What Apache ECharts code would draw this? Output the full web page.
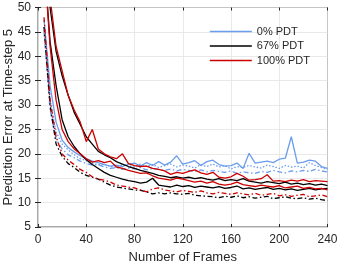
<!DOCTYPE html>
<html><head><meta charset="utf-8">
<script src="https://cdn.jsdelivr.net/npm/echarts@6/dist/echarts.min.js"></script>
<style>html,body{margin:0;padding:0;background:#fff}#c{width:339px;height:263px}</style>
</head><body><div id="c"></div>
<script>
const frames = [5,10,15,20,25,30,35,40,45,50,55,60,65,70,75,80,85,90,95,100,105,110,115,120,125,130,135,140,145,150,155,160,165,170,175,180,185,190,195,200,205,210,215,220,225,230,235,240];
const xTicks = [0,40,80,120,160,200,240];
const yTicks = [5,10,15,20,25,30,35,40,45,50];
const legendNames = ['0% PDT','67% PDT','100% PDT'];

const blueSolid = [47.5,34,26.5,22.8,21.3,20.4,19.6,19.0,18.5,18.2,17.8,17.5,17.7,17.4,17.9,18.1,17.5,18.2,17.6,18.4,17.7,18.3,19.6,17.9,18.2,18.6,17.6,18.4,18.7,17.8,17.5,17.6,18.1,17.0,20.1,18.1,18.3,18.5,18.2,18.9,19.1,23.5,18.1,18.3,18.7,18.5,17.4,17.0];
const blueDotted = [46,31,24.5,22,20.8,19.8,19.0,18.6,18.1,17.8,17.9,17.4,17.2,17.8,17.5,17.3,17.9,17.4,17.8,17.2,17.6,17.9,17.3,17.7,17.5,17.1,17.8,17.4,17.9,17.3,17.6,16.9,17.4,17.2,17.6,17.3,17.1,17.7,17.4,17.0,17.6,17.3,17.5,17.1,18.2,17.6,17.2,16.8];
const blueDashDot = [45,29,23,21,19.8,19.2,18.5,18.0,17.7,17.8,17.3,17.0,17.2,16.8,17.1,16.9,17.2,16.7,17.0,16.8,16.6,16.9,16.5,16.8,16.6,16.4,16.7,16.3,16.6,16.4,16.2,16.5,16.0,16.3,16.1,16.0,16.4,16.2,16.6,16.3,16.1,16.5,16.3,16.6,16.4,16.8,16.5,16.3];

const blackUpper = [65,50,41,36,32,28.5,26,23.5,22,20.5,19.8,19.2,18.4,17.9,17.4,17.0,16.6,16.3,16.0,15.6,15.4,15.1,15.3,15.0,15.2,14.9,15.1,14.8,14.6,14.9,14.5,14.7,14.5,14.9,14.4,14.2,14.0,14.3,14.1,13.9,14.2,13.8,14.0,13.7,13.9,13.6,13.8,13.5];
const blackLower = [60,43,34,27,23.5,21.5,20,18.8,17.8,17.0,16.2,15.6,15.2,14.8,14.5,14.3,14.0,14.2,15.0,13.6,13.4,13.2,13.6,13.3,13.5,13.1,13.4,13.2,13.0,13.3,12.9,13.1,13.4,12.8,13.0,12.7,12.9,13.1,12.7,12.9,12.6,12.8,12.5,12.7,12.9,12.6,12.8,12.9];
const blackDashDot = [46,30,22,19.5,18,17.2,16.2,15.6,15.2,14.8,14.2,13.6,13.2,13.0,12.8,12.6,12.5,12.2,11.8,12.0,11.8,12.0,11.8,11.7,11.9,11.5,11.4,11.3,11.2,11.0,11.3,11.1,11.4,11.0,11.2,10.9,11.1,11.3,10.8,11.0,11.2,10.9,10.8,11.0,10.7,10.9,10.6,10.4];

const redUpper = [70,52,42,37,32,29,26.5,22.5,25.0,21.0,20.0,19.4,19.0,20.0,18.0,17.6,17.4,17.5,17.0,16.8,16.5,15.8,16.2,16.0,16.4,16.7,16.1,15.8,16.2,15.2,15.0,15.3,16.0,15.4,14.6,14.7,14.9,15.7,14.4,14.5,14.3,14.6,14.4,14.7,14.3,14.5,14.4,14.3];
const redLower = [60,42,31,25,22.5,21,20,19,18.3,18.6,18.2,18.5,17.3,17.0,16.6,16.3,16.0,16.1,15.5,15.0,14.8,14.6,15.0,14.8,14.5,14.2,14.4,14.0,14.3,13.8,13.6,13.8,14.2,13.7,13.5,13.3,13.6,13.4,13.2,13.5,13.0,13.2,13.4,12.9,13.1,12.8,12.9,12.6];
const redDashDot = [48,31,23.5,20,18.7,17.8,16.8,16.2,15.3,14.8,14.6,14.2,13.6,13.4,13.2,13.0,12.6,12.2,12.8,13.0,12.6,12.4,12.2,12.5,12.3,12.1,12.4,12.0,11.8,12.1,11.9,11.7,12.0,11.8,11.6,11.9,11.5,11.7,11.9,11.4,11.6,11.3,11.5,11.7,11.2,11.4,11.6,11.2];

const BLUE = '#6a9ded', BLACK = '#000000', RED = '#cc0000';
const DASHDOT = [5,2.5,1.5,2.5];
const DOTTED = [1.5,1.8];

function mk(name, vals, color, type) {
  return {
    name: name, type: 'line', data: frames.map((f, i) => [f, vals[i]]),
    showSymbol: false, symbol: 'none', clip: true, animation: false,
    lineStyle: { color: color, width: 1.3, type: type },
    itemStyle: { color: color }
  };
}

const series = [
  mk('0% PDT', blueSolid, BLUE, 'solid'),
  mk('0% PDT', blueDotted, BLUE, DOTTED),
  mk('0% PDT', blueDashDot, BLUE, DASHDOT),
  mk('67% PDT', blackUpper, BLACK, 'solid'),
  mk('67% PDT', blackLower, BLACK, 'solid'),
  mk('67% PDT', blackDashDot, BLACK, DASHDOT),
  mk('100% PDT', redUpper, RED, 'solid'),
  mk('100% PDT', redLower, RED, 'solid'),
  mk('100% PDT', redDashDot, RED, DASHDOT)
];

const FONT = 'Liberation Sans, Arial, sans-serif';
const TXT = '#262626';
const chart = echarts.init(document.getElementById('c'), null, { renderer: 'canvas' });
chart.setOption({
  animation: false,
  backgroundColor: '#ffffff',
  grid: { left: 38, right: 11.5, top: 7.5, bottom: 36, containLabel: false, outerBoundsMode: 'none', show: true, borderColor: TXT, borderWidth: 0.8, backgroundColor: 'transparent' },
  legend: {
    data: legendNames, right: 24, top: 20, orient: 'vertical',
    icon: 'rect', itemWidth: 42, itemHeight: 1.6, itemGap: 1.5,
    textStyle: { fontFamily: FONT, fontSize: 11, color: TXT, lineHeight: 13 }
  },
  xAxis: [{
    type: 'value', min: 0, max: 240, interval: 40,
    name: 'Number of Frames', nameLocation: 'middle', nameGap: 24,
    nameTextStyle: { fontFamily: FONT, fontSize: 13, color: TXT },
    axisLine: { show: false }, axisTick: { show: true, inside: true, length: 3, lineStyle: { color: TXT } },
    axisLabel: { fontFamily: FONT, fontSize: 12, color: TXT, margin: 7, formatter: v => xTicks.includes(v) ? String(v) : '' },
    splitLine: { show: true, lineStyle: { color: '#e3e3e3', width: 0.8 } }
  }, {
    type: 'value', min: 0, max: 240, interval: 40, position: 'top',
    axisLine: { show: false }, axisTick: { show: true, inside: true, length: 3, lineStyle: { color: TXT } },
    axisLabel: { show: false }, splitLine: { show: false }
  }],
  yAxis: [{
    type: 'value', min: 5, max: 50, interval: 5,
    name: 'Prediction Error at Time-step 5', nameLocation: 'middle', nameGap: 23, nameMoveOverlap: false,
    nameTextStyle: { fontFamily: FONT, fontSize: 13, color: TXT },
    axisLine: { show: false }, axisTick: { show: true, inside: true, length: 3, lineStyle: { color: TXT } },
    axisLabel: { fontFamily: FONT, fontSize: 12, color: TXT, margin: 7, formatter: v => yTicks.includes(v) ? String(v) : '' },
    splitLine: { show: true, lineStyle: { color: '#e3e3e3', width: 0.8 } }
  }, {
    type: 'value', min: 5, max: 50, interval: 5, position: 'right',
    axisLine: { show: false }, axisTick: { show: true, inside: true, length: 3, lineStyle: { color: TXT } },
    axisLabel: { show: false }, splitLine: { show: false }
  }],
  series: series
});
</script></body></html>
